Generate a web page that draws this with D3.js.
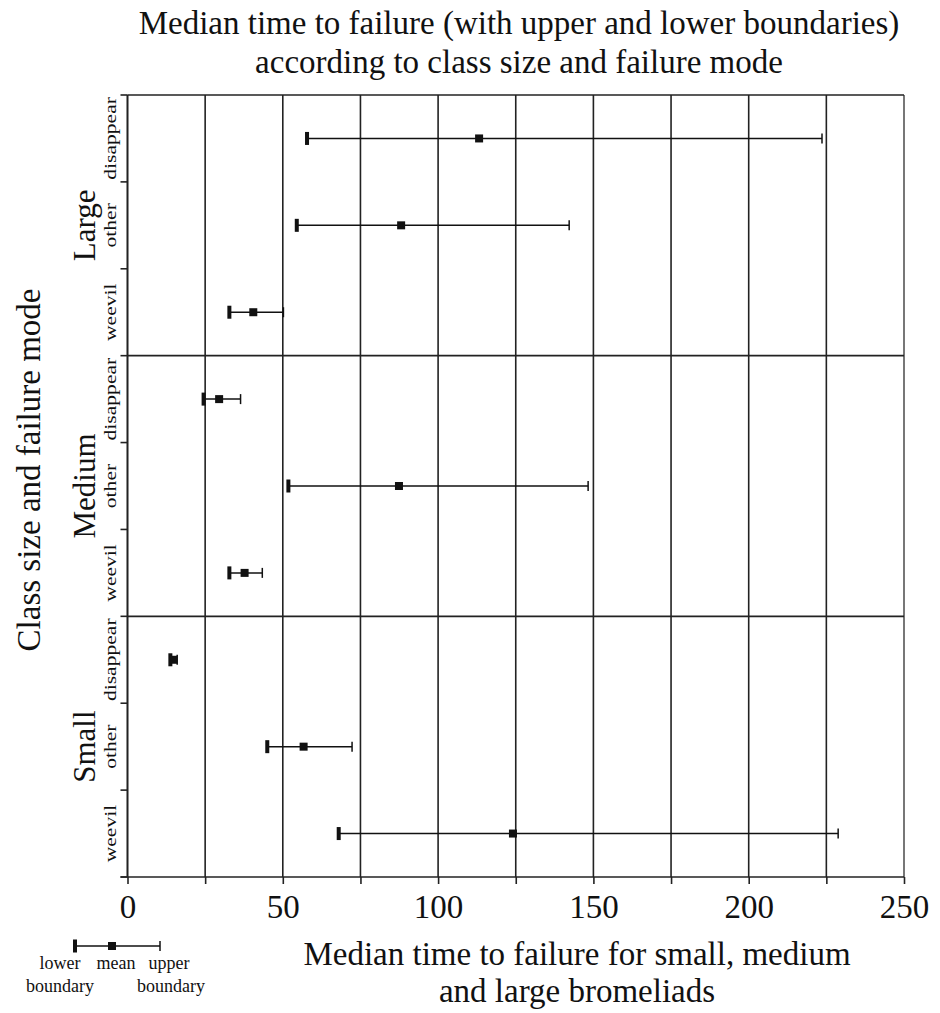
<!DOCTYPE html>
<meta charset="utf-8">
<style>
body { margin: 0; background: #fff; }
text {
  font-family: "Liberation Serif", "Times New Roman", serif;
  fill: #111;
}
.grid line { stroke: #222; stroke-width: 1.6px; }
</style>
<svg width="940" height="1013"></svg>
<script src="https://d3js.org/d3.v7.min.js"></script>
<script>

// chart data
var sizes = ["Large", "Medium", "Small"];
var modes = ["disappear", "other", "weevil"];
// rows go Large (disappear, other, weevil), Medium (...), Small (...)
var lowerB = [57.8, 54.5, 32.8, 24.5, 51.8, 32.8, 13.8, 45.0, 68.0];
var meanV  = [113.2, 88.1, 40.5, 29.5, 87.4, 37.7, 14.8, 56.7, 124.1];
var upperB = [223.6, 142.2, 50.2, 36.4, 148.3, 43.4, 16.0, 72.3, 228.8];
var xTickLabels = [0, 50, 100, 150, 200, 250];
var gridTicks = [0, 25, 50, 75, 100, 125, 150, 175, 200, 225, 250];

var rows = [];
sizes.forEach(function(s) {
  modes.forEach(function(m) { rows.push({size: s, mode: m}); });
});
rows.forEach(function(r, i) {
  r.lo = lowerB[i]; r.mean = meanV[i]; r.hi = upperB[i]; r.id = i;
});

var svg = d3.select("svg");
// note: "top" is taken by window.top, so plot edges get their own names
var plotLeft = 127.5, plotRight = 904, plotTop = 95, plotBottom = 877;

var x = d3.scaleLinear().domain([0, 250]).range([plotLeft, plotRight]);
var y = d3.scaleBand().domain(rows.map(function(d) { return d.id; }))
    .range([plotTop, plotBottom]).padding(0);
var yGroup = d3.scaleBand().domain(sizes).range([plotTop, plotBottom]).padding(0);

// vertical grid lines
svg.append("g").attr("class", "grid")
  .selectAll("line").data(gridTicks).enter().append("line")
    .attr("x1", function(d) { return x(d); })
    .attr("x2", function(d) { return x(d); })
    .attr("y1", plotTop).attr("y2", plotBottom)
    .style("stroke", function(d) { return d == 250 ? "#555" : "#222"; });

// top border and group separators
svg.append("g").attr("class", "grid")
  .selectAll("line").data(sizes).enter().append("line")
    .attr("x1", plotLeft).attr("x2", plotRight)
    .attr("y1", function(d) { return yGroup(d); })
    .attr("y2", function(d) { return yGroup(d); });

// bottom axis
var xAxis = d3.axisBottom(x).tickValues(gridTicks).tickSize(7)
    .tickFormat(function(d) { return xTickLabels.indexOf(d) >= 0 ? d : ""; });
var gx = svg.append("g").attr("transform", "translate(0," + plotBottom + ")").call(xAxis);
gx.select(".domain").attr("d", "M" + (plotLeft - 7) + ",0H" + plotRight)
    .style("stroke", "#222").style("stroke-width", 1.6);
gx.selectAll(".tick line").style("stroke", "#222").style("stroke-width", 1.6);
gx.selectAll(".tick text")
    .attr("y", 41).attr("dy", 0)
    .style("font-family", "'Liberation Serif', serif")
    .style("font-size", "33px").style("fill", "#111");

// left axis with ticks at row boundaries
var boundaries = rows.map(function(d) { return y(d.id); }).concat([plotBottom]);
svg.append("line").attr("x1", plotLeft).attr("x2", plotLeft)
    .attr("y1", plotTop).attr("y2", plotBottom)
    .style("stroke", "#222").style("stroke-width", 1.6);
svg.append("g").selectAll("line").data(boundaries).enter().append("line")
    .attr("x1", plotLeft - 7).attr("x2", plotLeft)
    .attr("y1", function(d) { return d; }).attr("y2", function(d) { return d; })
    .style("stroke", "#222").style("stroke-width", 1.6);

// mode labels (drawn thin and long, as in the original)
svg.append("g").selectAll("text").data(rows).enter().append("text")
    .attr("transform", function(d) {
      return "translate(116," + (y(d.id) + y.bandwidth() / 2) + ") rotate(-90) scale(1.27,1)";
    })
    .attr("text-anchor", "middle")
    .style("font-size", "17px")
    .text(function(d) { return d.mode; });

// size labels
svg.append("g").selectAll("text").data(sizes).enter().append("text")
    .attr("transform", function(d) {
      return "translate(95," + (yGroup(d) + yGroup.bandwidth() / 2) + ") rotate(-90)";
    })
    .attr("text-anchor", "middle")
    .style("font-size", "31px")
    .text(function(d) { return d; });

// error bars
var bars = svg.append("g").selectAll("g").data(rows).enter().append("g")
    .attr("transform", function(d) { return "translate(0," + (y(d.id) + y.bandwidth() / 2) + ")"; });

bars.append("line")
    .attr("x1", function(d) { return x(d.lo); })
    .attr("x2", function(d) { return x(d.hi); })
    .style("stroke", "#111").style("stroke-width", 1.5);
bars.append("rect")
    .attr("x", function(d) { return x(d.lo) - 2; })
    .attr("y", -6.5).attr("width", 4).attr("height", 13)
    .style("fill", "#111");
bars.append("line")
    .attr("x1", function(d) { return x(d.hi); })
    .attr("x2", function(d) { return x(d.hi); })
    .attr("y1", -5).attr("y2", 5)
    .style("stroke", "#111").style("stroke-width", 1.5);
bars.append("rect")
    .attr("x", function(d) { return x(d.mean) - 4; })
    .attr("y", -4).attr("width", 8).attr("height", 8)
    .style("fill", "#111");

// titles
var title = svg.append("text").attr("text-anchor", "middle").style("font-size", "33px");
title.append("tspan").attr("x", 519).attr("y", 34).text("Median time to failure (with upper and lower boundaries)");
title.append("tspan").attr("x", 519).attr("y", 73).text("according to class size and failure mode");

svg.append("text")
    .attr("transform", "translate(40,470) rotate(-90)")
    .attr("text-anchor", "middle")
    .style("font-size", "33px")
    .text("Class size and failure mode");

var xt = svg.append("text").attr("text-anchor", "middle").style("font-size", "33px");
xt.append("tspan").attr("x", 577).attr("y", 965).text("Median time to failure for small, medium");
xt.append("tspan").attr("x", 577).attr("y", 1002).text("and large bromeliads");

// legend
var lg = svg.append("g").attr("transform", "translate(0,946)");
lg.append("line").attr("x1", 75).attr("x2", 160).style("stroke", "#111").style("stroke-width", 1.5);
lg.append("rect").attr("x", 73).attr("y", -6.5).attr("width", 4).attr("height", 13).style("fill", "#111");
lg.append("line").attr("x1", 160).attr("x2", 160).attr("y1", -5).attr("y2", 5)
    .style("stroke", "#111").style("stroke-width", 1.5);
lg.append("rect").attr("x", 108).attr("y", -4).attr("width", 8).attr("height", 8).style("fill", "#111");
var legendText = [
  {t: "lower", x: 60, y: 23}, {t: "boundary", x: 60, y: 46},
  {t: "mean", x: 116, y: 23},
  {t: "upper", x: 169, y: 23}, {t: "boundary", x: 171, y: 46}
];
lg.selectAll("text.leg").data(legendText).enter().append("text")
    .attr("x", function(d) { return d.x; }).attr("y", function(d) { return d.y; })
    .attr("text-anchor", "middle")
    .style("font-size", "18px")
    .text(function(d) { return d.t; });

</script>
